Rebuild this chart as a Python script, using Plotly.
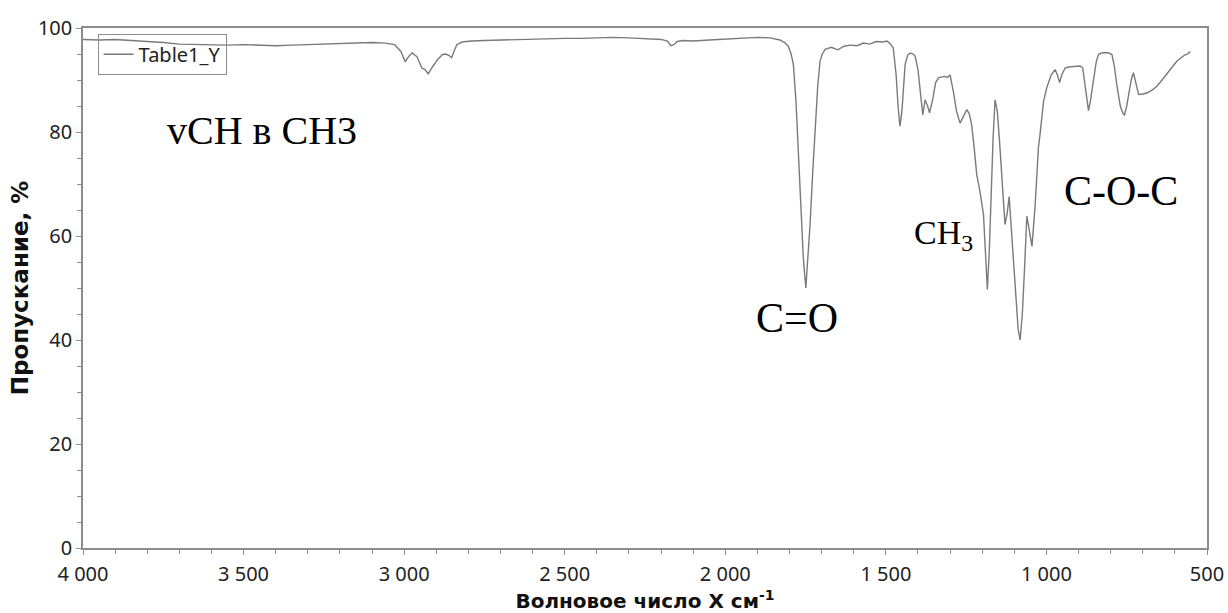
import plotly.graph_objects as go

wavenumber = [4000, 3950, 3900, 3850, 3800, 3750, 3700, 3650, 3600, 3550, 3500, 3450, 3400, 3350, 3300,
              3250, 3200, 3150, 3100, 3060, 3030, 3010, 2997, 2985, 2975, 2960, 2945, 2935, 2925, 2912,
              2895, 2880, 2870, 2860, 2852, 2845, 2836, 2820, 2790, 2750, 2700, 2650, 2600, 2550, 2500,
              2450, 2400, 2350, 2300, 2250, 2200, 2180, 2170, 2160, 2150, 2130, 2100, 2050, 2000, 1950,
              1900, 1860, 1830, 1815, 1804, 1795, 1788, 1780, 1772, 1764, 1757, 1752, 1749, 1745, 1740,
              1736, 1728, 1720, 1712, 1705, 1698, 1689, 1670, 1650, 1630, 1610, 1590, 1570, 1550, 1530,
              1510, 1497, 1487, 1477, 1468, 1462, 1456, 1450, 1444, 1440, 1432, 1424, 1415, 1409, 1400,
              1392, 1385, 1378, 1370, 1364, 1355, 1345, 1336, 1325, 1316, 1308, 1300, 1290, 1280, 1269,
              1258, 1248, 1240, 1233, 1225, 1217, 1207, 1196, 1190, 1184, 1178, 1172, 1166, 1160, 1153,
              1146, 1138, 1129, 1122, 1116, 1110, 1103, 1095, 1088, 1082, 1075, 1068, 1061, 1053, 1045,
              1035, 1025, 1020, 1009, 999, 985, 973, 966, 959, 952, 942, 930, 915, 900, 895,
              887, 880, 874, 869, 863, 853, 845, 838, 828, 817, 806, 796, 788, 781, 770,
              762, 757, 750, 744, 736, 729, 721, 713, 700, 687, 670, 656, 640, 620, 607,
              594, 580, 570, 560, 552]

transmittance = [97.8, 97.7, 97.8, 97.6, 97.5, 97.2, 96.9, 96.8, 96.7, 96.7, 96.8, 96.7, 96.6, 96.7, 96.8,
                 97.0, 97.1, 97.2, 97.2, 97.1, 96.8, 95.5, 93.5, 94.6, 95.2, 94.5, 92.3, 92.0, 91.2, 92.5,
                 94.0, 94.9, 95.0, 94.7, 94.3, 95.5, 96.8, 97.3, 97.5, 97.6, 97.7, 97.8, 97.9, 97.9, 98.0,
                 98.0, 98.1, 98.2, 98.1, 98.0, 97.8, 97.5, 96.6, 96.8, 97.4, 97.6, 97.5, 97.7, 97.9, 98.1,
                 98.2, 98.1, 97.7, 97.2, 96.5, 95.0, 93.0, 86.0, 75.0, 65.0, 55.8, 52.0, 50.0, 54.0, 58.0,
                 62.2, 72.0, 81.4, 89.0, 93.6, 95.0, 95.9, 96.3, 95.8, 96.5, 96.7, 96.6, 97.1, 96.9, 97.4,
                 97.3, 97.5, 97.0, 96.2, 91.0, 85.0, 81.1, 84.0, 90.0, 93.0, 94.8, 95.2, 95.0, 94.6, 92.0,
                 87.0, 83.3, 86.2, 85.0, 83.7, 86.0, 89.5, 90.4, 90.6, 90.7, 90.5, 91.0, 87.8, 84.0, 81.7,
                 83.0, 84.3, 83.5, 81.4, 77.0, 71.8, 68.6, 64.1, 57.0, 49.7, 57.0, 68.6, 79.0, 86.2, 84.0,
                 78.2, 70.0, 62.2, 64.5, 67.6, 62.0, 55.8, 48.0, 42.0, 40.0, 45.0, 54.0, 63.8, 61.0, 58.0,
                 66.0, 77.0, 79.5, 85.9, 88.5, 91.0, 92.0, 91.0, 89.5, 91.0, 92.3, 92.5, 92.6, 92.7, 92.7,
                 92.3, 89.0, 86.0, 84.1, 86.0, 90.4, 93.5, 94.9, 95.2, 95.3, 95.2, 94.9, 92.5, 89.1, 85.0,
                 83.6, 83.3, 85.0, 87.2, 90.0, 91.4, 89.5, 87.2, 87.3, 87.5, 88.1, 88.8, 90.0, 91.7, 92.6,
                 93.6, 94.2, 94.8, 95.0, 95.5]

x_tickvals = [4000, 3500, 3000, 2500, 2000, 1500, 1000, 500]
x_ticktext = ["4 000", "3 500", "3 000", "2 500", "2 000", "1 500", "1 000", "500"]
y_tickvals = [0, 20, 40, 60, 80, 100]

annotations_text = ["vCH в CH3", "C=O", "CH<sub>3</sub>", "C-O-C"]
annotations_x = [3745, 1776, 1418, 767]
annotations_y = [80.3, 44.3, 60.1, 68.7]
annotations_size = [40, 42, 34, 42]
annotations_anchor = ["left", "center", "left", "center"]

axis_color = "#8c8c8c"
tick_font = dict(family="Noto Sans, Liberation Sans, sans-serif", size=20, color="#222222")

fig = go.Figure()
fig.add_trace(go.Scatter(
    x=wavenumber, y=transmittance, mode="lines", name="Table1_Y",
    line=dict(color="#7a7a7a", width=1.4),
))

for t, xv, yv, s, a in zip(annotations_text, annotations_x, annotations_y, annotations_size, annotations_anchor):
    fig.add_annotation(x=xv, y=yv, text=t, showarrow=False, xanchor=a, yanchor="middle",
                       font=dict(family="Liberation Serif, Times New Roman, serif", size=s, color="#000000"))

fig.update_layout(
    width=1228, height=613,
    margin=dict(l=83, r=21, t=28, b=65, autoexpand=False),
    paper_bgcolor="white", plot_bgcolor="white",
    showlegend=True,
    legend=dict(x=0.013, y=0.989, xanchor="left", yanchor="top",
                bgcolor="rgba(0,0,0,0)", bordercolor=axis_color, borderwidth=1,
                font=dict(family="Noto Sans, Liberation Sans, sans-serif", size=20, color="#222222"),
                itemwidth=30, tracegroupgap=0),
    xaxis=dict(
        range=[4000, 500], tickvals=x_tickvals, ticktext=x_ticktext,
        showgrid=False, zeroline=False, showline=True, linecolor=axis_color, linewidth=1.5,
        mirror=True, ticks="outside", ticklen=5, tickcolor=axis_color, tickwidth=1.2,
        minor=dict(dtick=100, tick0=0, ticks="outside", ticklen=4, tickcolor=axis_color, showgrid=False),
        tickfont=tick_font, ticklabelstandoff=2,
        title=dict(text="<b>Волновое число X см<sup>-1</sup></b>",
                   font=dict(family="DejaVu Sans, Verdana, sans-serif", size=20, color="#111111"),
                   standoff=2),
    ),
    yaxis=dict(
        range=[0, 100], tickvals=y_tickvals,
        showgrid=False, zeroline=False, showline=True, linecolor=axis_color, linewidth=1.5,
        mirror=True, ticks="outside", ticklen=5, tickcolor=axis_color, tickwidth=1.2,
        minor=dict(dtick=5, tick0=0, ticks="outside", ticklen=4, tickcolor=axis_color, showgrid=False),
        tickfont=tick_font,
        title=dict(text="<b>Пропускание, %</b>",
                   font=dict(family="DejaVu Sans, Verdana, sans-serif", size=23, color="#111111"),
                   standoff=3),
    ),
)

fig.write_html("out.html")
